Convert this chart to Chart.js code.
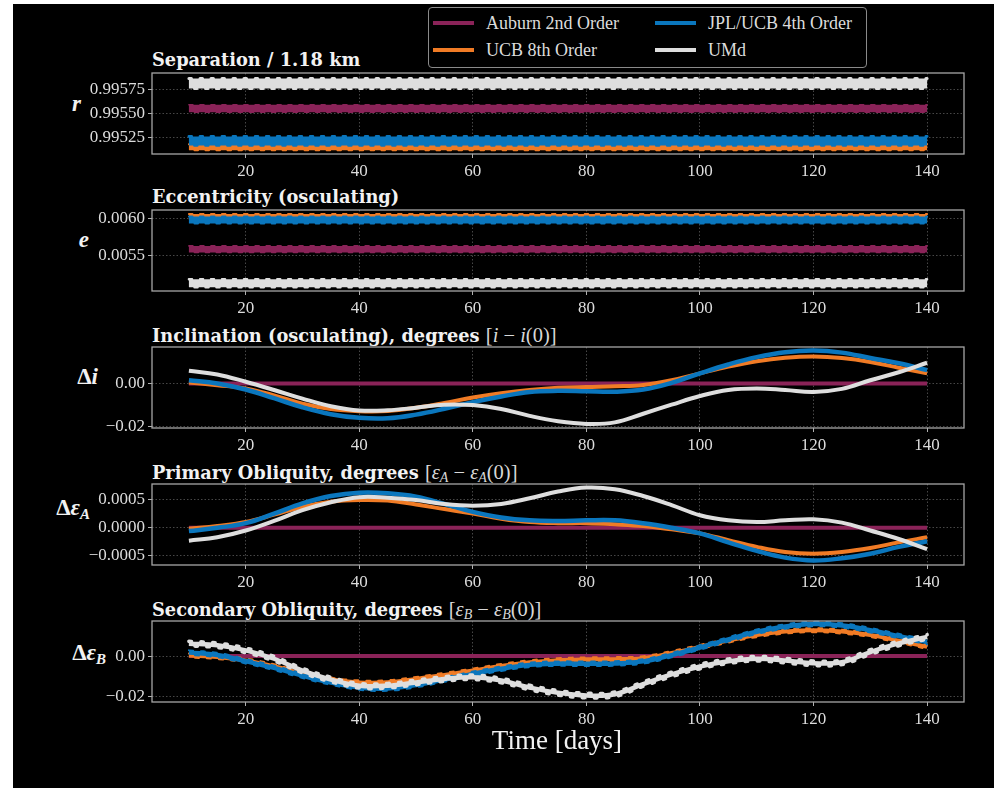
<!DOCTYPE html>
<html>
<head>
<meta charset="utf-8">
<script src="https://cdn.jsdelivr.net/npm/chart.js@4.4.1/dist/chart.umd.min.js"></script>
<style>
  html, body { margin: 0; padding: 0; background: #fff; }
  #fig { position: absolute; left: 13px; top: 4px; width: 981px; height: 784px; background: #000; }
  canvas { position: absolute; }
  .ttl { position: absolute; left: 152px; font: bold 17.8px "DejaVu Serif"; color: #f2f2f2; white-space: nowrap; line-height: 20px; }
  .ttl .m { font: 20.5px "Liberation Serif"; color: #d8d8d8; }
  .ttl .m sub { font-size: 14px; vertical-align: -3px; }
  .ylab { position: absolute; font: bold italic 23px "Liberation Serif"; color: #f2f2f2; white-space: nowrap; line-height: 24px; text-align: right; }
  .ylab .up { font-style: normal; }
  .ylab sub { font-size: 15px; vertical-align: -4px; }
  #legend { position: absolute; left: 428px; top: 7px; width: 437px; height: 59px; border: 1px solid #8a8a8a; border-radius: 4px; background: #000; }
  .lg { position: absolute; font: 18px "Liberation Serif"; color: #dcdcdc; white-space: nowrap; line-height: 20px; }
  .lg i { position: absolute; left: -53px; top: 8px; width: 41px; height: 4px; }
  #xlabel { position: absolute; left: 437px; width: 240px; top: 725px; text-align: center; font: 27px "Liberation Serif"; color: #f2f2f2; }
</style>
</head>
<body>
<div id="fig"></div>

<div id="legend"></div>

<div class="ttl" style="top:50px">Separation / 1.18 km</div>
<div class="ttl" style="top:187px">Eccentricity (osculating)</div>
<div class="ttl" style="top:324px">Inclination (osculating), degrees <span class="m">[<i>i</i> − <i>i</i>(0)]</span></div>
<div class="ttl" style="top:461px">Primary Obliquity, degrees <span class="m">[<i>ε</i><sub><i>A</i></sub> − <i>ε</i><sub><i>A</i></sub>(0)]</span></div>
<div class="ttl" style="top:598px">Secondary Obliquity, degrees <span class="m">[<i>ε</i><sub><i>B</i></sub> − <i>ε</i><sub><i>B</i></sub>(0)]</span></div>

<div class="ylab" style="left:40px;width:41px;top:92px"><i>r</i></div>
<div class="ylab" style="left:40px;width:49px;top:228px"><i>e</i></div>
<div class="ylab" style="left:40px;width:58px;top:365px"><span class="up">Δ</span><i>i</i></div>
<div class="ylab" style="left:10px;width:80px;top:496px"><span class="up">Δ</span><i>ε</i><sub><i>A</i></sub></div>
<div class="ylab" style="left:20px;width:86px;top:641px"><span class="up">Δ</span><i>ε</i><sub><i>B</i></sub></div>

<canvas id="c1"></canvas>
<canvas id="c2"></canvas>
<canvas id="c3"></canvas>
<canvas id="c4"></canvas>
<canvas id="c5"></canvas>

<div id="xlabel">Time [days]</div>

<script>
// ---- data ----
var NAMES = ["Auburn 2nd Order", "UCB 8th Order", "JPL/UCB 4th Order", "UMd"];
var COLORS = ["#8a2358", "#f07b25", "#0a76bd", "#dedede"];

var X_TICKS = [20, 40, 60, 80, 100, 120, 140];
var BAND_DAYS = [10, 140];
var DAYS = [10, 15, 20, 25, 30, 35, 40, 45, 50, 55, 60, 65, 70, 75, 80, 85, 90, 95, 100, 105, 110, 115, 120, 125, 130, 135, 140];

// separation / 1.18 km  (band centres)
var SEP_TICKS = [0.99525, 0.99550, 0.99575];
var SEP_AUBURN = [0.99555, 0.99555];
var SEP_UCB8 = [0.995149, 0.995149];
var SEP_JPL4 = [0.995214, 0.995214];
var SEP_UMD = [0.995808, 0.995808];

// eccentricity (band centres)
var ECC_TICKS = [0.0055, 0.0060];
var ECC_AUBURN = [0.005585, 0.005585];
var ECC_UCB8 = [0.006018, 0.006018];
var ECC_JPL4 = [0.005977, 0.005977];
var ECC_UMD = [0.005126, 0.005126];

// inclination change, degrees
var INC_TICKS = [-0.02, 0.00];
var INC_AUBURN = [0, 0, 0, 0, 0, 0, 0, 0, 0, 0, 0, 0, 0, 0, 0, 0, 0, 0, 0, 0, 0, 0, 0, 0, 0, 0, 0];
var INC_UCB8 = [0.0005, -0.0008, -0.0023, -0.0055, -0.0094, -0.0118, -0.0128, -0.0127, -0.0112, -0.0090, -0.0065, -0.0045, -0.0030, -0.0020, -0.0016, -0.0013, -0.0007, 0.0015, 0.0047, 0.0078, 0.0103, 0.0119, 0.0125, 0.0118, 0.0100, 0.0073, 0.0047];
var INC_JPL4 = [0.0015, 0.0000, -0.0028, -0.0068, -0.0110, -0.0142, -0.0159, -0.0161, -0.0144, -0.0117, -0.0086, -0.0060, -0.0039, -0.0034, -0.0036, -0.0038, -0.0028, 0.0003, 0.0047, 0.0088, 0.0122, 0.0145, 0.0153, 0.0143, 0.0118, 0.0094, 0.0062];
var INC_UMD = [0.0059, 0.0042, 0.0008, -0.0030, -0.0070, -0.0105, -0.0125, -0.0124, -0.0112, -0.0098, -0.0100, -0.0118, -0.0150, -0.0175, -0.0187, -0.0180, -0.0140, -0.0098, -0.0058, -0.0030, -0.0023, -0.0030, -0.0039, -0.0025, 0.0015, 0.0052, 0.0096];

// primary obliquity change, degrees
var OBA_TICKS = [-0.0005, 0.0000, 0.0005];
var OBA_AUBURN = [0, 0, 0, 0, 0, 0, 0, 0, 0, 0, 0, 0, 0, 0, 0, 0, 0, 0, 0, 0, 0, 0, 0, 0, 0, 0, 0];
var OBA_UCB8 = [-0.00002, 0.00003, 0.00010, 0.00023, 0.00037, 0.00046, 0.00049, 0.00048, 0.00041, 0.00033, 0.00025, 0.00016, 0.00010, 0.00008, 0.00008, 0.00006, 0.00003, -0.00003, -0.00010, -0.00022, -0.00034, -0.00043, -0.00046, -0.00043, -0.00036, -0.00026, -0.00017];
var OBA_JPL4 = [-0.00006, 0.00000, 0.00008, 0.00025, 0.00043, 0.00056, 0.00062, 0.00061, 0.00055, 0.00042, 0.00028, 0.00018, 0.00013, 0.00012, 0.00013, 0.00013, 0.00008, 0.00000, -0.00010, -0.00026, -0.00041, -0.00053, -0.00058, -0.00054, -0.00046, -0.00034, -0.00024];
var OBA_UMD = [-0.00023, -0.00017, -0.00005, 0.00012, 0.00031, 0.00045, 0.00054, 0.00053, 0.00049, 0.00042, 0.00039, 0.00042, 0.00052, 0.00064, 0.00071, 0.00068, 0.00056, 0.00040, 0.00022, 0.00013, 0.00010, 0.00013, 0.00015, 0.00009, -0.00005, -0.00020, -0.00038];

// secondary obliquity change, degrees
var OBB_TICKS = [-0.02, 0.00];
var OBB_AUBURN = [0, 0, 0, 0, 0, 0, 0, 0, 0, 0, 0, 0, 0, 0, 0, 0, 0, 0, 0, 0, 0, 0, 0, 0, 0, 0, 0];
var OBB_UCB8 = [0.0003, -0.0005, -0.0021, -0.0050, -0.0087, -0.0115, -0.0129, -0.0128, -0.0112, -0.0092, -0.0071, -0.0048, -0.0030, -0.0020, -0.0016, -0.0015, -0.0010, 0.0015, 0.0045, 0.0076, 0.0103, 0.0120, 0.0127, 0.0120, 0.0103, 0.0075, 0.0045];
var OBB_JPL4 = [0.0017, 0.0005, -0.0025, -0.0058, -0.0096, -0.0130, -0.0154, -0.0159, -0.0142, -0.0115, -0.0087, -0.0062, -0.0043, -0.0037, -0.0038, -0.0036, -0.0026, 0.0005, 0.0042, 0.0082, 0.0119, 0.0145, 0.0157, 0.0150, 0.0127, 0.0098, 0.0069];
var OBB_UMD = [0.0061, 0.0053, 0.0028, -0.0013, -0.0071, -0.0115, -0.0145, -0.0145, -0.0129, -0.0112, -0.0104, -0.0120, -0.0154, -0.0180, -0.0193, -0.0187, -0.0137, -0.0090, -0.0051, -0.0025, -0.0013, -0.0022, -0.0035, -0.0030, 0.0020, 0.0062, 0.0094];

// ---- layout ----
var PLOT_H = 81;
var PAD_TOP = 16;
var PAD_RIGHT = 8;
var XAX_H = 34;
var YAX_W = 112;
var CANVAS_LEFT = 40;
var PLOT_RIGHT = 964;
var TICK_FONT = { family: "Liberation Serif", size: 17 };

function minus(s) { return s.replace("-", "\u2212"); }

function pts(xs, ys) {
  var out = [];
  for (var i = 0; i < xs.length; i++) out.push({ x: xs[i], y: ys[i] });
  return out;
}

// frame round the plot area, like the axes spines
var framePlugin = {
  id: "frame",
  afterDatasetsDraw: function (chart) {
    var a = chart.chartArea, ctx = chart.ctx;
    ctx.save();
    ctx.strokeStyle = "#a6a6a6";
    ctx.lineWidth = 1.3;
    ctx.strokeRect(a.left, a.top, a.right - a.left, a.bottom - a.top);
    ctx.restore();
  }
};

// nudges a dataset up or down (used for the edge ripple of the fast wobble)
var shiftPlugin = {
  id: "shift",
  beforeDatasetDraw: function (chart, args) {
    var ds = chart.data.datasets[args.index];
    chart.ctx.save();
    if (ds.shiftY) chart.ctx.translate(0, ds.shiftY);
  },
  afterDatasetDraw: function (chart) {
    chart.ctx.restore();
  }
};

function buildLegend() {
  var box = document.getElementById("legend");
  var spots = [[57, 5], [57, 32], [279, 5], [279, 32]];
  for (var i = 0; i < NAMES.length; i++) {
    var d = document.createElement("div");
    d.className = "lg";
    d.style.left = spots[i][0] + "px";
    d.style.top = spots[i][1] + "px";
    d.textContent = NAMES[i];
    var h = document.createElement("i");
    h.style.background = COLORS[i];
    d.appendChild(h);
    box.appendChild(d);
  }
}

// style = per series [core width, ripple size px]; period = ripple period px
function makePanel(id, top, yMin, yMax, yTicks, decimals, xs, series, style, period) {
  var canvas = document.getElementById(id);
  canvas.width = PLOT_RIGHT - CANVAS_LEFT + PAD_RIGHT;
  canvas.height = PAD_TOP + PLOT_H + XAX_H;
  canvas.style.left = CANVAS_LEFT + "px";
  canvas.style.top = (top - PAD_TOP) + "px";

  var datasets = [];
  for (var i = 0; i < series.length; i++) {
    var w = style[i][0], a = style[i][1];
    var base = {
      label: NAMES[i],
      data: pts(xs, series[i]),
      borderColor: COLORS[i],
      borderWidth: w,
      pointRadius: 0,
      tension: 0.4,
      fill: false,
      order: series.length - i
    };
    datasets.push(base);
    if (a) {
      var d = period / 2 - 2 * a;
      var rip = { borderWidth: 2 * a, borderCapStyle: "round", borderDash: [d, period - d] };
      datasets.push(Object.assign({}, base, rip, { borderDashOffset: 0, shiftY: -w / 2 }));
      datasets.push(Object.assign({}, base, rip, { borderDashOffset: period / 2, shiftY: w / 2 }));
    }
  }

  var grid = { color: "rgba(150,150,150,0.6)", lineWidth: 0.8, tickLength: 4, tickColor: "#b0b0b0", tickWidth: 1 };
  var border = { display: false, dash: [1.5, 2] };

  return new Chart(canvas.getContext("2d"), {
    type: "line",
    data: { datasets: datasets },
    plugins: [shiftPlugin, framePlugin],
    options: {
      responsive: false,
      animation: false,
      events: [],
      layout: { padding: { top: PAD_TOP, right: PAD_RIGHT, left: 0, bottom: 0 } },
      plugins: { legend: { display: false }, tooltip: { enabled: false } },
      scales: {
        x: {
          type: "linear",
          min: 3.5,
          max: 146.5,
          afterBuildTicks: function (s) { s.ticks = X_TICKS.map(function (v) { return { value: v }; }); },
          afterFit: function (s) { s.height = XAX_H; },
          ticks: { color: "#dcdcdc", font: TICK_FONT, padding: 3, maxRotation: 0, autoSkip: false },
          grid: grid,
          border: border
        },
        y: {
          type: "linear",
          min: yMin,
          max: yMax,
          afterBuildTicks: function (s) { s.ticks = yTicks.map(function (v) { return { value: v }; }); },
          afterFit: function (s) { s.width = YAX_W; },
          ticks: {
            color: "#dcdcdc", font: TICK_FONT, padding: 3,
            callback: function (v) { return minus(Number(v).toFixed(decimals)); }
          },
          grid: grid,
          border: border
        }
      }
    }
  });
}

buildLegend();

makePanel("c1", 73, 0.995079, 0.995917, SEP_TICKS, 5, BAND_DAYS,
  [SEP_AUBURN, SEP_UCB8, SEP_JPL4, SEP_UMD], [[7.5, 0.8], [6, 1], [9, 1.4], [10, 1.5]], 11);
makePanel("c2", 210, 0.005022, 0.006112, ECC_TICKS, 4, BAND_DAYS,
  [ECC_AUBURN, ECC_UCB8, ECC_JPL4, ECC_UMD], [[6.5, 0.8], [6, 1], [7, 1], [8, 1.2]], 11);
makePanel("c3", 347, -0.0206, 0.0169, INC_TICKS, 2, DAYS,
  [INC_AUBURN, INC_UCB8, INC_JPL4, INC_UMD], [[4, 0], [4, 0], [4.5, 0], [4, 0]], 0);
makePanel("c4", 484, -0.00066, 0.000773, OBA_TICKS, 4, DAYS,
  [OBA_AUBURN, OBA_UCB8, OBA_JPL4, OBA_UMD], [[4, 0], [4, 0], [4.5, 0], [4, 0]], 0);
makePanel("c5", 621, -0.0225, 0.0172, OBB_TICKS, 2, DAYS,
  [OBB_AUBURN, OBB_UCB8, OBB_JPL4, OBB_UMD], [[4, 0], [4, 1], [4.5, 1], [4.5, 1.8]], 12);
</script>
</body>
</html>
